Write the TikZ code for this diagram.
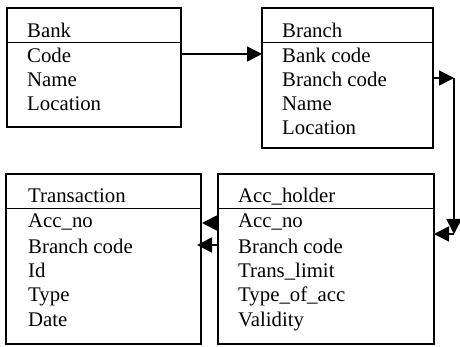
\documentclass[tikz,border=0pt]{standalone}
\usepackage{fontspec}
\setmainfont{Liberation Serif}
\usetikzlibrary{arrows.meta}
\begin{document}
\begin{tikzpicture}[x=1pt,y=-1pt,
  box/.style={draw, line width=1.5pt, inner sep=0pt, outer sep=0pt, anchor=north west},
  hdr/.style={line width=0.9pt},
  txt/.style={anchor=base west, inner sep=0pt, font=\fontsize{20.8}{24}\selectfont},
  arr/.style={line width=1.6pt, -{Triangle[length=15pt,width=15pt]}}]
\useasboundingbox (0,0) rectangle (460,347);
% boxes
\node[box, minimum width=174pt, minimum height=119pt] (bank) at (7,8) {};
\node[box, minimum width=171pt, minimum height=140pt] (branch) at (262,8) {};
\node[box, minimum width=195pt, minimum height=170pt] (trans) at (6,174) {};
\node[box, minimum width=216pt, minimum height=170pt] (acch) at (218,174) {};
% header lines
\draw[hdr] (bank.west |- 0,42) -- (bank.east |- 0,42);
\draw[hdr] (branch.west |- 0,42) -- (branch.east |- 0,42);
\draw[hdr] (trans.west |- 0,208) -- (trans.east |- 0,208);
\draw[hdr] (acch.west |- 0,208) -- (acch.east |- 0,208);
% Bank texts
\node[txt] (bank0) at (27,38) {Bank};
\node[txt] (bank1) at (27,63) {Code};
\node[txt] (bank2) at (27,87) {Name};
\node[txt] (bank3) at (27,111) {Location};
% Branch texts
\node[txt] (br0) at (282,38) {Branch};
\node[txt] (br1) at (282,63) {Bank code};
\node[txt] (br2) at (282,87) {Branch code};
\node[txt] (br3) at (282,111) {Name};
\node[txt] (br4) at (282,135) {Location};
% Transaction texts
\node[txt] (tr0) at (28,203) {Transaction};
\node[txt] (tr1) at (28,228) {Acc\_no};
\node[txt] (tr2) at (28,253) {Branch code};
\node[txt] (tr3) at (28,277) {Id};
\node[txt] (tr4) at (28,301) {Type};
\node[txt] (tr5) at (28,326) {Date};
% Acc_holder texts
\node[txt] (ah0) at (238,203) {Acc\_holder};
\node[txt] (ah1) at (238,228) {Acc\_no};
\node[txt] (ah2) at (238,253) {Branch code};
\node[txt] (ah3) at (238,277) {Trans\_limit};
\node[txt] (ah4) at (238,301) {Type\_of\_acc};
\node[txt] (ah5) at (238,326) {Validity};
% connectors
\coordinate (r1) at (0,54);
\draw[arr] (bank.east |- r1) -- (branch.west |- r1);
\coordinate (c1) at (454,78);
\coordinate (c2) at (454,234);
\draw[arr] (branch.east |- c1) -- (c1);
\draw[arr] (c1) -- (c2);
\draw[arr] (c2) -- (acch.east |- c2);
\coordinate (t1) at (0,223);
\coordinate (t2) at (0,245);
\draw[arr] (acch.west |- t1) -- ([xshift=1pt]trans.east |- t1);
\draw[arr] (acch.west |- t2) -- ([xshift=-4pt]trans.east |- t2);
\end{tikzpicture}
\end{document}
